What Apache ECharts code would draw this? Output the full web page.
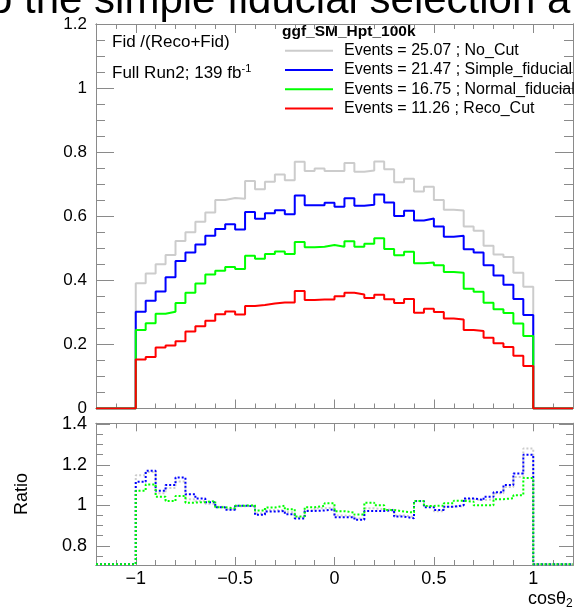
<!DOCTYPE html>
<html>
<head>
<meta charset="utf-8">
<script src="https://cdn.jsdelivr.net/npm/echarts@6/dist/echarts.min.js"></script>
<style>
  html, body { margin: 0; padding: 0; background: #fff; }
  #chart { width: 575px; height: 610px; }
</style>
</head>
<body>
<div id="chart"></div>
<script>
// 40 bins of cos(theta2) between -1 and 1
const binLow = -1;
const binHigh = 1;

// Fid /(Reco+Fid) per bin
const noCut = [0.391, 0.421, 0.450, 0.479, 0.523, 0.550, 0.583, 0.612, 0.651, 0.657,
  0.655, 0.710, 0.684, 0.708, 0.730, 0.712, 0.770, 0.741, 0.749, 0.741,
  0.741, 0.766, 0.739, 0.743, 0.771, 0.747, 0.706, 0.717, 0.677, 0.692,
  0.651, 0.620, 0.618, 0.568, 0.555, 0.508, 0.481, 0.473, 0.424, 0.380];
const simpleFid = [0.302, 0.336, 0.365, 0.410, 0.460, 0.487, 0.512, 0.539, 0.560, 0.575,
  0.559, 0.613, 0.592, 0.609, 0.619, 0.606, 0.665, 0.634, 0.634, 0.642,
  0.630, 0.656, 0.633, 0.636, 0.668, 0.643, 0.601, 0.617, 0.587, 0.593,
  0.568, 0.536, 0.539, 0.497, 0.487, 0.447, 0.415, 0.386, 0.342, 0.292];
const normalFid = [0.245, 0.266, 0.296, 0.302, 0.329, 0.361, 0.390, 0.418, 0.430, 0.442,
  0.435, 0.477, 0.467, 0.482, 0.490, 0.482, 0.520, 0.503, 0.505, 0.510,
  0.505, 0.522, 0.505, 0.514, 0.531, 0.498, 0.478, 0.489, 0.453, 0.456,
  0.447, 0.426, 0.424, 0.374, 0.364, 0.330, 0.310, 0.298, 0.265, 0.226];
const recoCut = [0.153, 0.161, 0.190, 0.197, 0.210, 0.240, 0.257, 0.274, 0.294, 0.303,
  0.293, 0.320, 0.323, 0.328, 0.331, 0.331, 0.367, 0.339, 0.340, 0.340,
  0.350, 0.361, 0.356, 0.345, 0.355, 0.341, 0.329, 0.342, 0.299, 0.311,
  0.301, 0.281, 0.278, 0.245, 0.242, 0.221, 0.204, 0.192, 0.165, 0.133];

// ratio pad
const ratioNoCut = [1.148, 1.165, 1.060, 1.085, 1.118, 1.030, 1.020, 1.008, 0.993, 0.980,
  0.995, 0.998, 0.960, 0.975, 0.975, 0.965, 0.940, 0.975, 0.985, 0.990,
  0.950, 0.945, 0.935, 0.985, 0.980, 0.977, 0.950, 0.942, 1.020, 0.997,
  0.970, 0.993, 0.995, 1.030, 1.025, 1.030, 1.060, 1.090, 1.140, 1.280];
const ratioSimple = [1.116, 1.170, 1.072, 1.100, 1.137, 1.054, 1.033, 1.015, 0.990, 0.978,
  0.998, 0.995, 0.953, 0.969, 0.972, 0.956, 0.935, 0.972, 0.974, 0.980,
  0.941, 0.941, 0.928, 0.972, 0.972, 0.977, 0.944, 0.936, 1.021, 0.990,
  0.977, 0.993, 1.000, 1.034, 1.026, 1.042, 1.065, 1.100, 1.157, 1.250];
const ratioNormal = [1.072, 1.103, 1.042, 1.021, 1.046, 1.013, 1.016, 1.021, 0.990, 0.985,
  0.998, 1.000, 0.974, 0.989, 0.998, 0.980, 0.944, 0.990, 0.997, 1.010,
  0.971, 0.964, 0.954, 1.013, 1.000, 0.977, 0.969, 0.964, 1.021, 0.997,
  0.998, 1.010, 1.022, 1.018, 1.000, 1.000, 1.030, 1.035, 1.050, 1.135];

const cutNames = ['No_Cut', 'Simple_fiducial', 'Normal_fiducial', 'Reco_Cut'];
const eventCounts = [25.07, 21.47, 16.75, 11.26];

const xTickLabels = [-1, -0.5, 0, 0.5, 1];
const topYTickLabels = [0, 0.2, 0.4, 0.6, 0.8, 1, 1.2];
const ratioYTickLabels = [0.8, 1, 1.2, 1.4];

const xMin = -1.2, xMax = 1.2;
const ratioMin = 0.705, ratioMax = 1.405;
const frameColor = '#8a8a8a';
const font = '"Liberation Sans", Arial, sans-serif';
const colors = ['#cccccc', '#0000ff', '#00ff00', '#ff0000'];

function steps(from, to, step) {
  const out = [];
  for (let v = from; v <= to + 1e-9; v += step) out.push(Math.round(v * 1000) / 1000);
  return out;
}

// histogram as step points: [low edge, content]; empty bins outside [-1,1]
// sit on the axis floor (like ROOT draws underflowing contents)
function histPoints(values, floor) {
  const w = (binHigh - binLow) / values.length;
  const pts = [[xMin, floor]];
  values.forEach((v, i) => pts.push([Math.round((binLow + i * w) * 1000) / 1000, v]));
  pts.push([binHigh, floor]);
  pts.push([xMax, floor]);
  return pts;
}

const minusFmt = (v) => (v < 0 ? '\u2212' : '') + Math.abs(v);

function xAxis(grid, pos, ticks, len, labels) {
  return {
    type: 'value', gridIndex: grid, position: pos, min: xMin, max: xMax,
    axisLine: { show: true, onZero: false, lineStyle: { color: frameColor, width: 1 } },
    axisTick: { show: true, inside: true, length: len, customValues: ticks, lineStyle: { color: frameColor } },
    axisLabel: labels
      ? { show: true, customValues: ticks, formatter: minusFmt, fontSize: 18, color: '#000', fontFamily: font, margin: 5 }
      : { show: false },
    splitLine: { show: false },
  };
}

function yAxis(grid, pos, min, max, ticks, len, labels, size) {
  return {
    type: 'value', gridIndex: grid, position: pos, min: min, max: max,
    axisLine: { show: true, onZero: false, lineStyle: { color: frameColor, width: 1 } },
    axisTick: { show: true, inside: true, length: len, customValues: ticks, lineStyle: { color: frameColor } },
    axisLabel: labels
      ? { show: true, customValues: ticks, fontSize: size, color: '#000', fontFamily: font, margin: 9 }
      : { show: false },
    splitLine: { show: false },
  };
}

const xMinor = steps(xMin, xMax, 0.1);
const topYMinor = steps(0, 1.2, 0.05);
const ratioYMinor = steps(0.75, 1.4, 0.05);

const chart = echarts.init(document.getElementById('chart'));

const topSeries = [noCut, simpleFid, normalFid, recoCut].map((vals, i) => ({
  name: 'Events = ' + eventCounts[i].toFixed(2) + ' ; ' + cutNames[i],
  type: 'line',
  step: 'end',
  xAxisIndex: 0,
  yAxisIndex: 0,
  data: histPoints(vals, 0),
  symbol: 'none',
  lineStyle: { color: colors[i], width: 2 },
  itemStyle: { color: colors[i] },
}));

const ratioSeries = [ratioNoCut, ratioSimple, ratioNormal].map((vals, i) => ({
  name: 'ratio ' + cutNames[i],
  type: 'line',
  step: 'end',
  xAxisIndex: 4,
  yAxisIndex: 4,
  data: histPoints(vals, ratioMin + 0.004),
  symbol: 'none',
  lineStyle: { color: colors[i], width: 2, type: [2, 2] },
  itemStyle: { color: colors[i] },
}));

const option = {
  animation: false,
  backgroundColor: '#fff',
  grid: [
    { left: 96, right: 2, top: 24, height: 384.5 },
    { left: 96, right: 2, top: 423.3, height: 141.7 },
  ],
  xAxis: [
    xAxis(0, 'bottom', xTickLabels, 9, false),
    xAxis(0, 'bottom', xMinor, 5, false),
    xAxis(0, 'top', xTickLabels, 9, false),
    xAxis(0, 'top', xMinor, 5, false),
    xAxis(1, 'bottom', xTickLabels, 8, true),
    xAxis(1, 'bottom', xMinor, 5, false),
    xAxis(1, 'top', xTickLabels, 8, false),
    xAxis(1, 'top', xMinor, 5, false),
  ],
  yAxis: [
    yAxis(0, 'left', 0, 1.2, topYTickLabels, 18, true, 17),
    yAxis(0, 'left', 0, 1.2, topYMinor, 9, false),
    yAxis(0, 'right', 0, 1.2, topYTickLabels, 18, false),
    yAxis(0, 'right', 0, 1.2, topYMinor, 9, false),
    yAxis(1, 'left', ratioMin, ratioMax, ratioYTickLabels, 14, true, 18),
    yAxis(1, 'left', ratioMin, ratioMax, ratioYMinor, 7, false),
    yAxis(1, 'right', ratioMin, ratioMax, ratioYTickLabels, 14, false),
    yAxis(1, 'right', ratioMin, ratioMax, ratioYMinor, 7, false),
  ],
  legend: {
    data: topSeries.map((s) => s.name),
    orient: 'vertical',
    left: 285,
    top: 41.2,
    padding: 0,
    icon: 'rect',
    itemWidth: 48,
    itemHeight: 2,
    itemGap: 0.3,
    selectedMode: false,
    textStyle: { fontSize: 16, lineHeight: 19, color: '#000', fontFamily: font, padding: [0, 0, 0, 6] },
  },
  graphic: [
    {
      type: 'text', left: -11, top: -20, silent: true, z: 10,
      style: { text: 'o the simple fiducial selection a', font: '42px ' + font, fill: '#000' },
    },
    {
      type: 'text', x: 112, y: 42, silent: true,
      style: { text: 'Fid /(Reco+Fid)', font: '17px ' + font, fill: '#000', verticalAlign: 'middle' },
    },
    {
      type: 'text', x: 112, y: 73, silent: true,
      style: {
        text: '{m|Full Run2; 139 fb}{s|-1}', verticalAlign: 'middle', fill: '#000',
        rich: {
          m: { fontSize: 17, fontFamily: font, lineHeight: 20 },
          s: { fontSize: 11, fontFamily: font, verticalAlign: 'top' },
        },
      },
    },
    {
      type: 'text', x: 282, y: 32, silent: true,
      style: { text: 'ggf_SM_Hpt_100k', font: 'bold 15.5px ' + font, fill: '#000', verticalAlign: 'middle' },
    },
    {
      type: 'text', x: 22, y: 494, rotation: Math.PI / 2, silent: true,
      style: { text: 'Ratio', font: '18px ' + font, fill: '#000', align: 'center', verticalAlign: 'middle' },
    },
    {
      type: 'text', x: 528, y: 599, silent: true,
      style: {
        text: '{m|cos\u03b8}{s|2}', verticalAlign: 'middle', fill: '#000',
        rich: {
          m: { fontSize: 18, fontFamily: font, lineHeight: 22 },
          s: { fontSize: 12, fontFamily: font, verticalAlign: 'bottom' },
        },
      },
    },
  ],
  series: topSeries.concat(ratioSeries),
};

chart.setOption(option);
</script>
</body>
</html>
